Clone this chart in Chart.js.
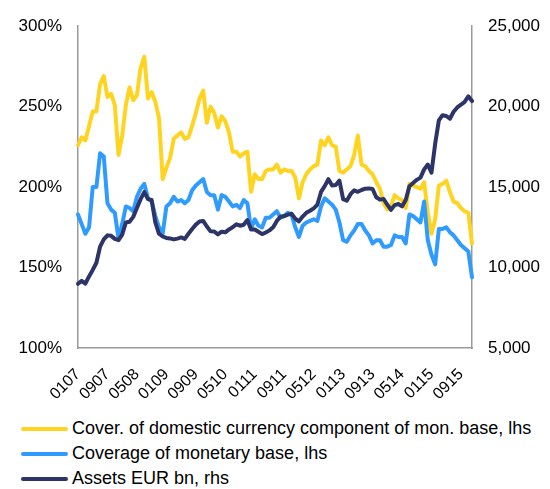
<!DOCTYPE html>
<html lang="en">
<head>
<meta charset="UTF-8">
<title>Coverage of monetary base</title>
<script src="https://cdn.jsdelivr.net/npm/chart.js"></script>
<style>
  body { margin: 0; background: #fff; font-family: "Liberation Sans", Arial, sans-serif; }
  #wrap { position: relative; width: 550px; height: 489px; }
  #box { position: absolute; left: 0; top: 0; width: 550px; height: 405px; }
  #legend { position: absolute; left: 21px; top: 416px; }
  .item { height: 25px; display: flex; align-items: center; font-size: 18px; color: #000; }
  .swatch { width: 47px; height: 4px; border-radius: 2px; margin-right: 4px; }
</style>
</head>
<body>
<div id="wrap">
  <div id="box"><canvas id="myChart"></canvas></div>
  <div id="legend"></div>
</div>
<script>
    // months, MMYY
    const months = [
        '0107','0207','0307','0407','0507','0607','0707','0807','0907','1007','1107','1207',
        '0108','0208','0308','0408','0508','0608','0708','0808','0908','1008','1108','1208',
        '0109','0209','0309','0409','0509','0609','0709','0809','0909','1009','1109','1209',
        '0110','0210','0310','0410','0510','0610','0710','0810','0910','1010','1110','1210',
        '0111','0211','0311','0411','0511','0611','0711','0811','0911','1011','1111','1211',
        '0112','0212','0312','0412','0512','0612','0712','0812','0912','1012','1112','1212',
        '0113','0213','0313','0413','0513','0613','0713','0813','0913','1013','1113','1213',
        '0114','0214','0314','0414','0514','0614','0714','0814','0914','1014','1114','1214',
        '0115','0215','0315','0415','0515','0615','0715','0815','0915','1015','1115','1215'
    ];
    const tickLabels = ['0107','0907','0508','0109','0909','0510','0111','0911','0512','0113','0913','0514','0115','0915'];

    // Cover. of domestic currency component of mon. base (%, lhs)
    const coverDomestic = [
        226, 231, 229, 238, 247, 247, 264, 269, 256, 258, 251, 220,
        232, 251, 262, 254, 257, 274, 281, 255, 259, 253, 243, 205,
        212, 218, 230, 232, 234, 230, 231, 238, 246, 255, 260, 240,
        250, 246, 237, 244, 241, 234, 222, 222, 219, 221, 222, 197,
        208, 205, 205, 210, 211, 211, 214, 209, 211, 210, 210, 206,
        193, 203, 208, 211, 213, 214, 229, 226, 231, 226, 225, 210,
        209, 211, 213, 220, 232, 214, 213, 210, 208, 203, 199, 190,
        186, 188, 195, 193, 192, 187, 202, 201, 200, 199, 203, 184,
        171, 180, 201, 202, 204, 197, 191, 190, 187, 185, 184, 165
    ];
    // Coverage of monetary base (%, lhs)
    const coverBase = [
        183, 177, 171, 175, 200, 200, 221, 219, 190, 186, 184, 168,
        177, 188, 187, 185, 194, 199, 202, 193, 191, 182, 175, 171,
        188, 190, 194, 191, 192, 190, 192, 198, 201, 203, 205, 197,
        195, 195, 186, 195, 194, 191, 188, 189, 187, 192, 190, 174,
        180, 176, 175, 181, 181, 183, 185, 181, 182, 184, 183, 175,
        169, 176, 178, 179, 180, 179, 188, 193, 191, 189, 186, 178,
        167, 166, 170, 173, 177, 177, 173, 170, 165, 167, 167, 163,
        163, 164, 170, 169, 169, 165, 183, 182, 180, 178, 191, 167,
        158, 152, 174, 174, 175, 172, 170, 167, 164, 162, 160, 144
    ];
    // Assets, EUR bn (rhs)
    const assets = [
        8990, 9170, 9000, 9450, 9850, 10300, 11300, 11750, 12000, 11970, 11780, 11700,
        12050, 12800, 12850, 13150, 13700, 14250, 14690, 14250, 14200, 12800, 12100, 11930,
        11840, 11810, 11750, 11800, 11870, 11780, 12100, 12400, 12670, 12860, 12900, 12550,
        12250, 12240, 12060, 12230, 12190, 12370, 12500, 12690, 12600, 12660, 12950, 12370,
        12360, 12220, 12080, 12180, 12310, 12500, 12900, 13160, 13200, 13290, 13340, 13040,
        12870, 13170, 13400, 13530, 13680, 13900, 14700, 15060, 15490, 15100, 15130, 15400,
        14250, 14150, 14560, 14800, 14710, 14820, 14900, 14920, 14880, 14370, 14220, 14260,
        13900, 13590, 13880, 13950, 13800, 14200, 15050, 15250, 15450, 15590, 16100, 16400,
        15900, 17700, 19150, 19470, 19420, 19250, 19680, 19950, 20120, 20300, 20640, 20350
    ];

    const seriesNames = [
        'Cover. of domestic currency component of mon. base, lhs',
        'Coverage of monetary base, lhs',
        'Assets EUR bn, rhs'
    ];
    const colors = ['#FFD420', '#2F9BFF', '#2D3468'];

    const font = { family: '"Liberation Sans", Arial, sans-serif', size: 17 };

    const ctx = document.getElementById('myChart').getContext('2d');
    const myChart = new Chart(ctx, {
        type: 'line',
        data: {
            labels: months,
            datasets: [
                { label: seriesNames[0], data: coverDomestic, yAxisID: 'y', borderColor: colors[0], order: 2 },
                { label: seriesNames[1], data: coverBase, yAxisID: 'y', borderColor: colors[1], order: 1 },
                { label: seriesNames[2], data: assets, yAxisID: 'y1', borderColor: colors[2], order: 0 }
            ]
        },
        options: {
            responsive: true,
            maintainAspectRatio: false,
            animation: false,
            layout: { padding: { top: 22, left: 0, right: 0, bottom: 0 } },
            elements: {
                line: { borderWidth: 4, tension: 0, borderCapStyle: 'round', borderJoinStyle: 'round' },
                point: { radius: 0 }
            },
            plugins: {
                legend: { display: false },
                tooltip: { enabled: false }
            },
            scales: {
                x: {
                    offset: false,
                    grid: { display: false, drawTicks: false },
                    border: { display: true, color: '#9a9a9a', width: 1.5 },
                    ticks: {
                        autoSkip: false,
                        maxRotation: 45,
                        minRotation: 45,
                        padding: 17,
                        color: '#000',
                        font: { family: font.family, size: 16 },
                        callback: function(value, index) {
                            const lab = months[index];
                            return tickLabels.includes(lab) ? lab : null;
                        }
                    },
                    afterFit: function(scale) { scale.height = 57; }
                },
                y: {
                    position: 'left',
                    min: 100,
                    max: 300,
                    grid: { display: false, drawTicks: false },
                    border: { display: true, color: '#9a9a9a', width: 1.5 },
                    ticks: {
                        stepSize: 50,
                        padding: 16,
                        color: '#000',
                        font: font,
                        callback: function(v) { return v + '%'; }
                    },
                    afterFit: function(scale) { scale.width = 78; }
                },
                y1: {
                    position: 'right',
                    min: 5000,
                    max: 25000,
                    grid: { display: false, drawTicks: false },
                    border: { display: true, color: '#9a9a9a', width: 1.5 },
                    ticks: {
                        stepSize: 5000,
                        padding: 16,
                        color: '#000',
                        font: font,
                        callback: function(v) { return v.toLocaleString('en-US'); }
                    },
                    afterFit: function(scale) { scale.width = 78; }
                }
            }
        }
    });

    // legend below the chart
    const legend = document.getElementById('legend');
    seriesNames.forEach(function(name, i) {
        const row = document.createElement('div');
        row.className = 'item';
        const sw = document.createElement('span');
        sw.className = 'swatch';
        sw.style.background = colors[i];
        row.appendChild(sw);
        row.appendChild(document.createTextNode(name));
        legend.appendChild(row);
    });
</script>
</body>
</html>
